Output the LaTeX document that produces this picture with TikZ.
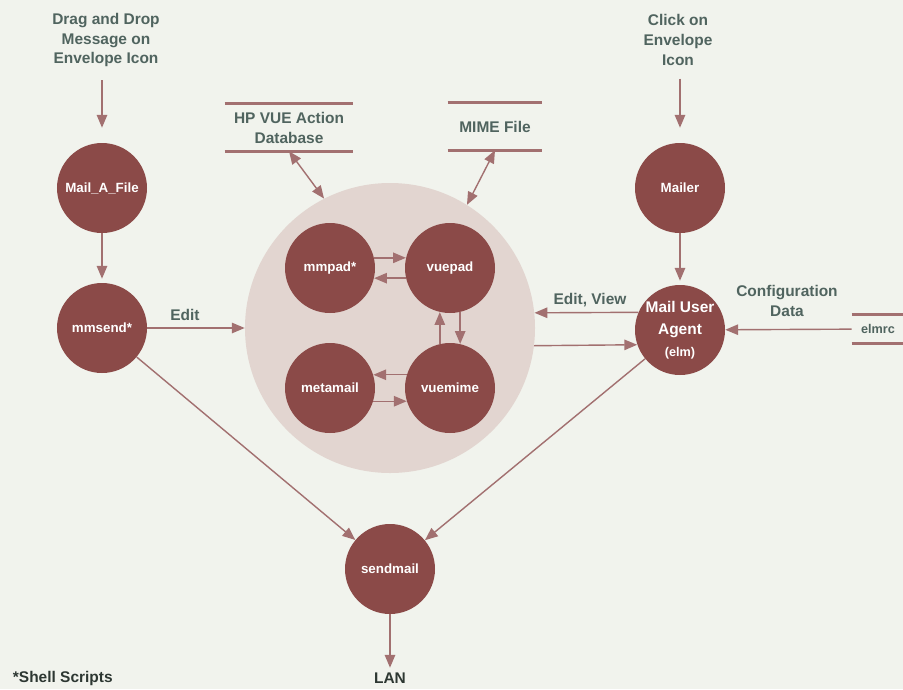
\documentclass[tikz,border=0pt]{standalone}
\usepackage{fontspec}
\setmainfont{Liberation Sans}
\usetikzlibrary{arrows.meta}
\usetikzlibrary{calc,positioning}

\definecolor{procfill}{RGB}{139,74,72}
\definecolor{poolfill}{RGB}{226,213,208}
\definecolor{flowline}{RGB}{162,112,112}
\definecolor{labeltext}{RGB}{80,100,95}
\definecolor{darktext}{RGB}{45,55,50}
\definecolor{paper}{RGB}{241,243,237}

\begin{document}
\begin{tikzpicture} [
        x=0.25mm, y=-0.25mm,
        >={Triangle[length=3.2mm,width=2.6mm]},
        proc/.style={
            circle,
            fill=procfill,
            text=white,
            font=\bfseries\fontsize{9.5}{12}\selectfont,
            align=center,
            minimum size=22.5mm,
            inner sep=0pt},
        pool/.style={
            circle,
            fill=poolfill,
            minimum size=72.5mm,
            inner sep=0pt},
        flow/.style={draw=flowline, line width=1pt},
        lbl/.style={
            text=labeltext,
            font=\bfseries\fontsize{11}{14.2}\selectfont,
            align=center},
        store/.style={lbl, minimum height=11.75mm, inner sep=0pt},
        storeline/.style={draw=flowline, line width=2pt}]

    \fill[paper] (0,0) rectangle (903,689);
    \useasboundingbox (0,0) rectangle (903,689);

    % left column
    \node[lbl] (drag) at (106,40) {Drag and Drop\\Message on\\Envelope Icon};
    \node[proc] (mailafile) at (102,188) {Mail\_A\_File};
    \node[proc] (mmsend) at (102,328) {mmsend*};
    \draw[flow,->,shorten <=2mm,shorten >=3.75mm] (mailafile.north |- drag.south) -- (mailafile.north);
    \draw[flow,->,shorten >=1mm] (mailafile) -- (mmsend);

    % tool cluster
    \node[pool] (tools) at (390,328) {};
    \node[proc] (mmpad) at (330,268) {mmpad*};
    \node[proc] (vuepad) at (450,268) {vuepad};
    \node[proc] (metamail) at (330,388) {metamail};
    \node[proc] (vuemime) at (450,388) {vuemime};
    \draw[flow,->] (mmpad.13) -- (vuepad.167);
    \draw[flow,->] (vuepad.-167) -- (mmpad.-13);
    \draw[flow,->] (vuemime.103) -- (vuepad.-103);
    \draw[flow,->] (vuepad.-77) -- (vuemime.77);
    \draw[flow,->] (vuemime.163) -- (metamail.17);
    \draw[flow,->] (metamail.-17) -- (vuemime.-163);

    % data stores
    \node[store, minimum width=32mm] (actiondb) at (289,127.5) {HP VUE Action\\Database};
    \draw[storeline] (actiondb.north west) -- (actiondb.north east);
    \draw[storeline] (actiondb.south west) -- (actiondb.south east);
    \node[store, minimum width=23.5mm] (mimefile) at (495,126.5) {MIME File};
    \draw[storeline] (mimefile.north west) -- (mimefile.north east);
    \draw[storeline] (mimefile.south west) -- (mimefile.south east);
    \node[store, minimum width=13mm, minimum height=7mm,
        font=\bfseries\fontsize{9}{11}\selectfont] (elmrc) at (878,329) {elmrc};
    \draw[storeline] (elmrc.north west) -- (elmrc.north east);
    \draw[storeline] (elmrc.south west) -- (elmrc.south east);
    \draw[flow,<->] (actiondb.south) -- (tools.117);
    \draw[flow,<->] (mimefile.south) -- (tools.58);

    % right column
    \node[lbl] (click) at (678,40) {Click on\\Envelope\\Icon};
    \node[proc] (mailer) at (680,188) {Mailer};
    \node[proc, font=\bfseries\fontsize{11}{15.5}\selectfont] (mua) at (680,330)
        {Mail User\\Agent\\{\fontsize{9}{11}\selectfont(elm)}};
    \draw[flow,->,shorten <=2mm,shorten >=3.75mm] (mailer.north |- click.south) -- (mailer.north);
    \draw[flow,->,shorten >=1mm] (mailer) -- (mua);

    % edit flows
    \node[lbl] (edit) at (185,315) {Edit};
    \node[lbl] (editview) at (590,300) {Edit, View};
    \node[lbl] (config) at (787,301) {Configuration\\Data};
    \draw[flow,->] (mmsend) -- (tools);
    \draw[flow,->] (mua.157) -- (tools.6);
    \draw[flow,->] (tools.-7) -- (mua.199);
    \draw[flow,->] (elmrc) -- (mua);

    % delivery
    \node[proc] (sendmail) at (390,569) {sendmail};
    \node[lbl, text=darktext] (lan) at (390,678) {LAN};
    \node[lbl, text=darktext, anchor=west] (shell) at (8,678) {*Shell Scripts};
    \draw[flow,->] (mmsend) -- (sendmail);
    \draw[flow,->] (mua) -- (sendmail);
    \draw[flow,->] (sendmail) -- (lan);

\end{tikzpicture}
\end{document}
